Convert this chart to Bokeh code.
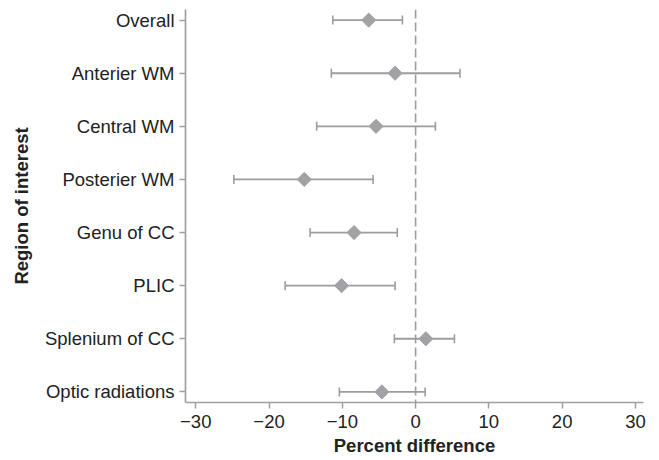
import math
from bokeh.plotting import figure
from bokeh.models import Range1d, FixedTicker, Span, ColumnDataSource
from bokeh.embed import file_html
from bokeh.resources import INLINE

regions = ["Overall", "Anterier WM", "Central WM", "Posterier WM",
           "Genu of CC", "PLIC", "Splenium of CC", "Optic radiations"]
estimate = [-6.4, -2.8, -5.4, -15.2, -8.4, -10.1, 1.4, -4.6]
lower = [-11.3, -11.5, -13.5, -24.8, -14.4, -17.8, -2.9, -10.4]
upper = [-1.8, 6.05, 2.7, -5.8, -2.5, -2.8, 5.3, 1.3]
x_ticks = [-30, -20, -10, 0, 10, 20, 30]
x_tick_labels = ["\u221230", "\u221220", "\u221210", "0", "10", "20", "30"]

n = len(regions)
ypos = [n - i for i in range(n)]

src = ColumnDataSource(dict(y=ypos, est=estimate, lo=lower, hi=upper, name=regions))

p = figure(width=655, height=460, output_backend="svg", toolbar_location=None,
           x_range=Range1d(-31.4, 31.1), y_range=Range1d(0.8, 8.2),
           min_border_left=185, min_border_right=12, min_border_top=9,
           min_border_bottom=58)
p.outline_line_color = None
p.xgrid.visible = False
p.ygrid.visible = False
p.background_fill_color = "white"
p.border_fill_color = "white"

grey = "#9d9da1"
zero = Span(location=0, dimension="height", line_color=grey, line_width=1.6,
            line_dash="9 4")
p.add_layout(zero)

p.segment(x0="lo", x1="hi", y0="y", y1="y", source=src, line_color=grey, line_width=1.8)
p.scatter(x="lo", y="y", source=src, marker="dash", angle=math.pi / 2, size=9,
          line_color=grey, line_width=1.6)
p.scatter(x="hi", y="y", source=src, marker="dash", angle=math.pi / 2, size=9,
          line_color=grey, line_width=1.6)
p.scatter(x="est", y="y", source=src, marker="square", angle=math.pi / 4, size=10,
          fill_color="#a2a2a6", line_color="#a2a2a6")

font = "Liberation Sans"
for ax in (p.xaxis[0], p.yaxis[0]):
    ax.axis_line_color = "#a0a0a4"
    ax.axis_line_width = 1.7
    ax.major_tick_line_color = "#a0a0a4"
    ax.major_tick_line_width = 1.5
    ax.major_tick_out = 6
    ax.major_tick_in = 0
    ax.minor_tick_line_color = None
    ax.major_label_text_font = font
    ax.major_label_text_font_size = "18.5px"
    ax.major_label_text_color = "#222222"
    ax.axis_label_text_font = font
    ax.axis_label_text_font_size = "18.5px"
    ax.axis_label_text_font_style = "bold"
    ax.axis_label_text_color = "#222222"

p.xaxis.ticker = FixedTicker(ticks=x_ticks)
p.xaxis.major_label_overrides = {t: l for t, l in zip(x_ticks, x_tick_labels)}
p.xaxis.axis_label = "Percent difference"
p.xaxis.major_label_standoff = 6
p.xaxis.axis_label_standoff = 4

p.yaxis.ticker = FixedTicker(ticks=ypos)
p.yaxis.major_label_overrides = {y: r for y, r in zip(ypos, regions)}
p.yaxis.axis_label = "Region of interest"
p.yaxis.major_label_standoff = 5
p.yaxis.axis_label_standoff = 10

open("out.html", "w").write(file_html(p, INLINE))
